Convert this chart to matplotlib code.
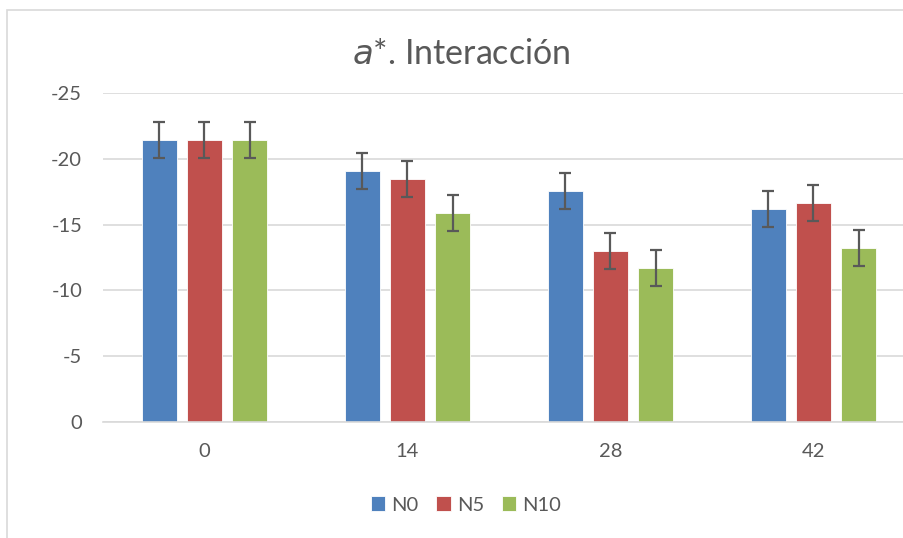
import numpy as np
import matplotlib.pyplot as plt
from matplotlib.patches import Rectangle

plt.rcParams['font.family'] = ['Lato', 'DejaVu Sans']
plt.rcParams['axes.unicode_minus'] = False

days = ["0", "14", "28", "42"]
series_names = ["N0", "N5", "N10"]
n0 = [-21.43, -19.07, -17.58, -16.19]
n5 = [-21.43, -18.44, -12.97, -16.67]
n10 = [-21.43, -15.90, -11.73, -13.22]
err = [1.37, 1.37, 1.37, 1.37]
colors = ["#4F81BD", "#C0504D", "#9BBB59"]

fig = plt.figure(figsize=(9.04, 5.38), dpi=100)
ax = fig.add_axes([103 / 904, 1 - 422 / 538, 812 / 904, 329 / 538])

x = np.arange(len(days))
width = 0.172
step = 0.222
for i, (vals, name) in enumerate(zip([n0, n5, n10], series_names)):
    ax.bar(x + (i - 1) * step, vals, width, color=colors[i], label=name,
           edgecolor="white", linewidth=0.6, zorder=2)
    ax.errorbar(x + (i - 1) * step, vals, yerr=err, fmt="none", ecolor="#595959",
                elinewidth=1.6, capsize=4.3, capthick=1.6, zorder=3)

ax.set_xlim(-0.5, 3.5)
ax.set_ylim(0, -25)
ax.set_yticks([0, -5, -10, -15, -20, -25])
ax.set_xticks(x)
ax.set_xticklabels(days)
ax.grid(axis="y", color="#D9D9D9", linewidth=1.2, zorder=0)
ax.set_axisbelow(True)
for s in ["left", "right", "top"]:
    ax.spines[s].set_visible(False)
ax.spines["bottom"].set_color("#D9D9D9")
ax.spines["bottom"].set_linewidth(1.2)
ax.tick_params(axis="both", length=0, labelsize=14.5, labelcolor="#595959")
ax.tick_params(axis="x", pad=15)
ax.tick_params(axis="y", pad=15)

fig.text(461 / 904, 1 - 54 / 538, r"$\it{a}$*. Interacción", ha="center", va="center",
         fontsize=24.5, color="#595959")

handles, labels = ax.get_legend_handles_labels()
fig.legend(handles, labels, loc="center", bbox_to_anchor=(466 / 904, 1 - 505 / 538),
           ncol=3, frameon=False, fontsize=14.5, labelcolor="#595959",
           handlelength=0.7, handleheight=0.7, handletextpad=0.3, columnspacing=0.9)

fig.patches.append(Rectangle((7 / 904, -0.1), 2, 1.1 - 10 / 538, transform=fig.transFigure,
                             fill=False, edgecolor="#D9D9D9", linewidth=1.2, zorder=0))

fig.savefig("out.png", dpi=100)
